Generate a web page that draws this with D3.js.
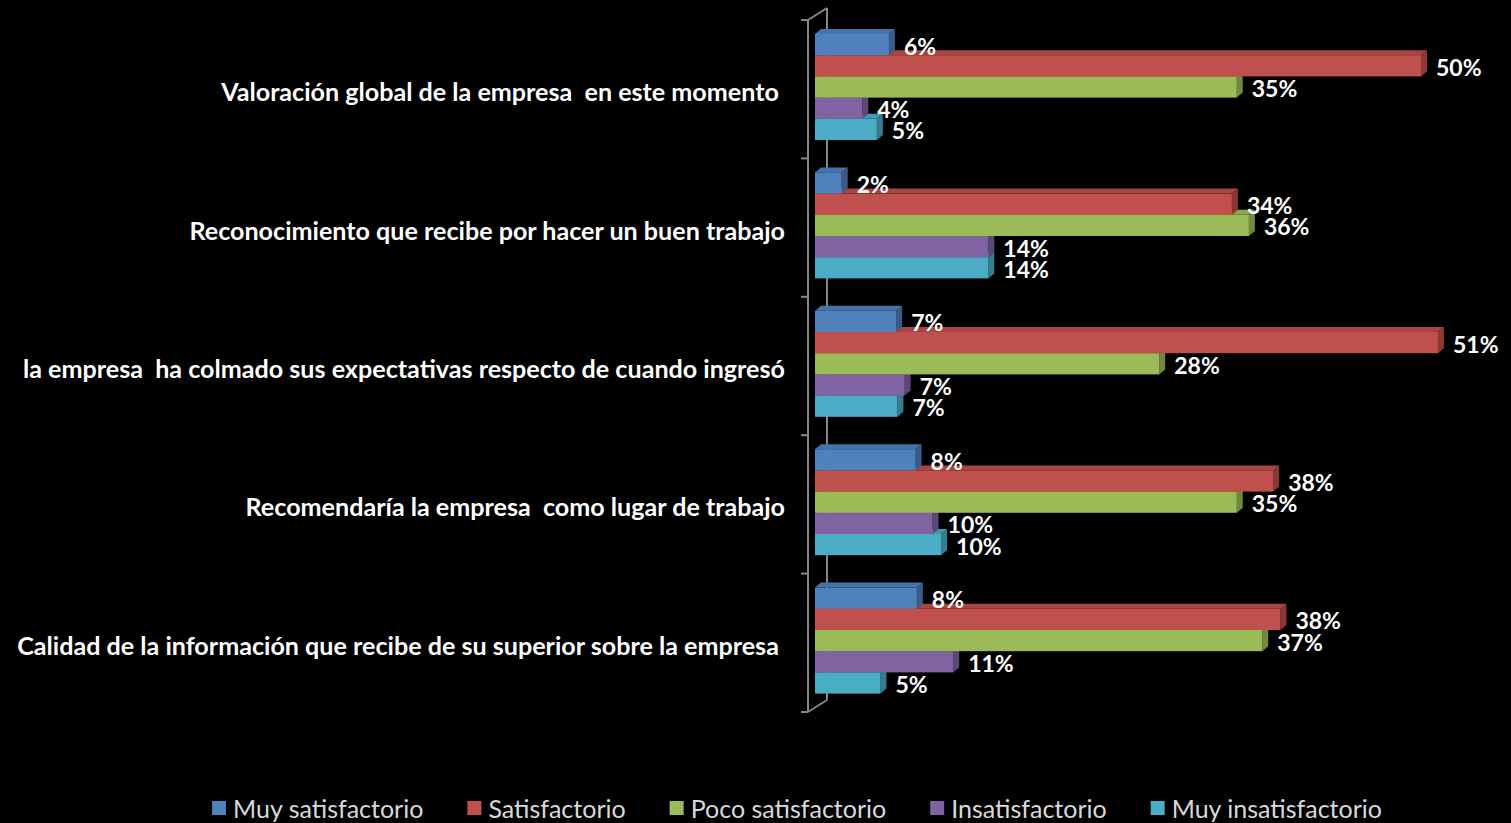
<!DOCTYPE html>
<html>
<head>
<meta charset="utf-8">
<script src="https://cdn.jsdelivr.net/npm/d3@7"></script>
<style>
  body { margin: 0; background: #000; }
  text { white-space: pre; }
</style>
</head>
<body>
<div id="chart"></div>
<script>
//categories from top to bottom
var categories = [
  "Valoración global de la empresa  en este momento ",
  "Reconocimiento que recibe por hacer un buen trabajo",
  "la empresa  ha colmado sus expectativas respecto de cuando ingresó",
  "Recomendaría la empresa  como lugar de trabajo",
  "Calidad de la información que recibe de su superior sobre la empresa "
];
var seriesNames = ["Muy satisfactorio", "Satisfactorio", "Poco satisfactorio", "Insatisfactorio", "Muy insatisfactorio"];

//values in %, one per category
var muySatisfactorio = [6.1, 2.2, 6.7, 8.3, 8.4];
var satisfactorio = [50.0, 34.4, 51.4, 37.8, 38.4];
var pocoSatisfactorio = [34.8, 35.8, 28.4, 34.8, 36.9];
var insatisfactorio = [3.9, 14.3, 7.4, 9.7, 11.4];
var muyInsatisfactorio = [5.1, 14.3, 6.8, 10.4, 5.4];
var seriesValues = [muySatisfactorio, satisfactorio, pocoSatisfactorio, insatisfactorio, muyInsatisfactorio];

//front, top and side colours of each series
var colors = [
  { front: "#4f81bd", top: "#4574ab", side: "#385d8a" },
  { front: "#c0504d", top: "#a84542", side: "#8c3836" },
  { front: "#9bbb59", top: "#8aa74e", side: "#71893f" },
  { front: "#8064a2", top: "#72598f", side: "#5c4776" },
  { front: "#4bacc6", top: "#4399b0", side: "#357d91" }
];

var width = 1511,
  height = 823;
var font = "Lato, 'Open Sans', sans-serif";

var svg = d3.select("#chart").append("svg")
  .attr("width", width)
  .attr("height", height)
  .style("background", "#000");

var x = d3.scaleLinear().domain([0, 50]).range([815, 1421]);
var y = d3.scaleBand().domain(categories).range([20, 712]);
var ySeries = d3.scaleBand().domain(seriesNames).range([14, 120]);

//3d depth of bars and of the floor/wall
var dx = 6, dy = -5;
var wallDx = 19, wallDy = -12;
var axisX = 808;

var axisG = svg.append("g").attr("stroke", "#868686").attr("stroke-width", 2).attr("fill", "none");
var y0 = y.range()[0], y1 = y.range()[1];

//back wall line (behind bars)
axisG.append("line")
  .attr("x1", axisX + wallDx).attr("y1", y0 + wallDy)
  .attr("x2", axisX + wallDx).attr("y2", y1 + wallDy);
axisG.append("line")
  .attr("x1", axisX).attr("y1", y0)
  .attr("x2", axisX + wallDx).attr("y2", y0 + wallDy);
axisG.append("line")
  .attr("x1", axisX).attr("y1", y1)
  .attr("x2", axisX + wallDx).attr("y2", y1 + wallDy);
axisG.append("line")
  .attr("x1", axisX).attr("y1", y0)
  .attr("x2", axisX).attr("y2", y1);

//ticks on the category boundaries
var tickYs = categories.map(function(c) { return y(c); }).concat([y1]);
axisG.selectAll(".tick")
  .data(tickYs)
  .enter()
  .append("line")
  .attr("x1", axisX - 7).attr("x2", axisX)
  .attr("y1", function(d) { return d; })
  .attr("y2", function(d) { return d; });

//bars, drawn from the bottom series up so the upper bars cover the top faces below
var barsG = svg.append("g");
categories.forEach(function(cat, ci) {
  for (var si = seriesNames.length - 1; si >= 0; si--) {
    var v = seriesValues[si][ci];
    var c = colors[si];
    var bx0 = x(0), bx1 = x(v);
    var by0 = y(cat) + ySeries(seriesNames[si]);
    var bh = ySeries.bandwidth();
    var g = barsG.append("g");
    g.append("path")
      .attr("d", "M" + bx0 + "," + by0 + "L" + (bx0 + dx) + "," + (by0 + dy) +
        "L" + (bx1 + dx) + "," + (by0 + dy) + "L" + bx1 + "," + by0 + "Z")
      .attr("fill", c.top);
    g.append("path")
      .attr("d", "M" + bx1 + "," + by0 + "L" + (bx1 + dx) + "," + (by0 + dy) +
        "L" + (bx1 + dx) + "," + (by0 + dy + bh) + "L" + bx1 + "," + (by0 + bh) + "Z")
      .attr("fill", c.side);
    g.append("rect")
      .attr("x", bx0).attr("y", by0)
      .attr("width", bx1 - bx0).attr("height", bh)
      .attr("fill", c.front);
  }
});

//value labels
categories.forEach(function(cat, ci) {
  seriesNames.forEach(function(s, si) {
    var v = seriesValues[si][ci];
    svg.append("text")
      .attr("x", x(v) + 15)
      .attr("y", y(cat) + ySeries(s) + ySeries.bandwidth() / 2 + 1)
      .attr("dominant-baseline", "central")
      .attr("fill", "#fff")
      .style("font-family", font)
      .style("font-weight", "bold")
      .style("font-size", "23px")
      .text(Math.round(v) + "%");
  });
});

//category labels, sized so the longest one spans like the original
var catLabels = svg.selectAll(".catLabel")
  .data(categories)
  .enter()
  .append("text")
  .attr("class", "catLabel")
  .attr("x", 785)
  .attr("y", function(d) { return y(d) + y.bandwidth() / 2 + 2; })
  .attr("text-anchor", "end")
  .attr("dominant-baseline", "central")
  .attr("fill", "#fff")
  .style("font-family", font)
  .style("font-weight", "bold")
  .style("font-size", "21px")
  .text(function(d) { return d; });
var maxW = d3.max(catLabels.nodes(), function(n) { return n.getComputedTextLength(); });
catLabels.style("font-size", (21 * 768 / maxW) + "px");

//legend
var legend = svg.append("g");
var legendY = 808, gap = 44, sq = 14;
var items = seriesNames.map(function(s, i) {
  var g = legend.append("g");
  g.append("rect").attr("width", sq).attr("height", sq)
    .attr("y", legendY - sq / 2).attr("fill", colors[i].front);
  var t = g.append("text")
    .attr("x", sq + 7).attr("y", legendY)
    .attr("dominant-baseline", "central")
    .attr("fill", "#d9d9d9")
    .style("font-family", font)
    .style("font-size", "25px")
    .text(s);
  return { g: g, w: sq + 7 + t.node().getComputedTextLength() };
});
var total = d3.sum(items, function(d) { return d.w; }) + gap * (items.length - 1);
var lx = 797 - total / 2;
items.forEach(function(d) {
  d.g.attr("transform", "translate(" + lx + ",0)");
  lx += d.w + gap;
});
</script>
</body>
</html>
